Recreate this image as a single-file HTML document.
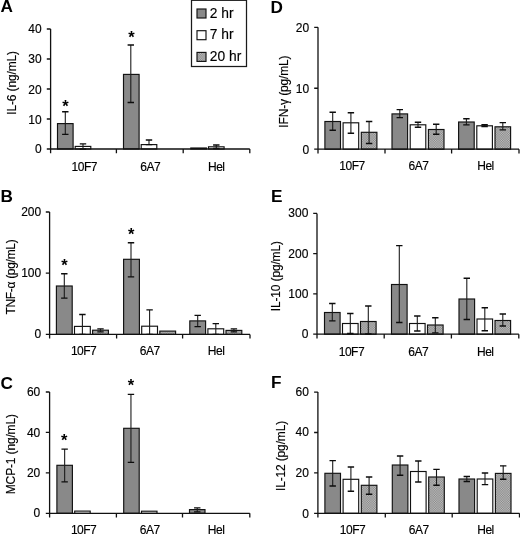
<!DOCTYPE html>
<html lang="en">
<head>
<meta charset="utf-8">
<title>Cytokine levels</title>
<style>
html,body{margin:0;padding:0;background:#fff;}
body{width:520px;height:535px;overflow:hidden;}
svg{display:block;filter:blur(0.3px);font-family:"Liberation Sans",sans-serif;}
text{fill:#000;stroke:#000;stroke-width:.15px;}
.t{font-size:12px;}
.r{text-anchor:end;}
.m{text-anchor:middle;}
.x{letter-spacing:-.5px;}
.y{letter-spacing:-.15px;}
.L{font-size:17.2px;font-weight:bold;stroke:none;}
.s{font-size:16.5px;font-weight:bold;text-anchor:middle;stroke:none;}
.lt{font-size:13.8px;}
.a{stroke:#111;stroke-width:1.3px;fill:none;}
.e{stroke:#1c1c1c;stroke-width:1.1px;fill:none;}
.c{stroke:#0c0c0c;stroke-width:1.35px;fill:none;}
.b{stroke:#111;stroke-width:1.15px;}
.k{fill:#898989;}
.w{fill:#fff;}
.d{fill:url(#d);}
.lg{fill:#fff;stroke:#1a1a1a;stroke-width:1.25px;}
</style>
</head>
<body>
<svg width="520" height="535" viewBox="0 0 520 535">
<defs><pattern id="d" width="2" height="2" patternUnits="userSpaceOnUse" patternTransform="scale(0.87)"><rect width="2" height="2" fill="#c2c2c2"/><rect width="1" height="1" fill="#828282"/><rect x="1" y="1" width="1" height="1" fill="#828282"/></pattern></defs>
<rect width="520" height="535" fill="#fff"/>
<g id="panel-A">
<rect class="b k" x="57.5" y="123.6" width="15.6" height="25.4"/>
<path class="e" d="M65.3 111.75V134.4"/><path class="c" d="M62.1 111.75h6.4M62.1 134.4h6.4"/>
<rect class="b w" x="75.2" y="146.4" width="15.6" height="2.6"/>
<path class="e" d="M83 143.9V149"/><path class="c" d="M79.8 143.9h6.4M79.8 149h6.4"/>
<rect class="b k" x="123.5" y="74.4" width="15.6" height="74.6"/>
<path class="e" d="M130.8 45V102.5"/><path class="c" d="M127.6 45h6.4M127.6 102.5h6.4"/>
<rect class="b w" x="141.2" y="144.6" width="15.6" height="4.4"/>
<path class="e" d="M149 140V144.6"/><path class="c" d="M145.8 140h6.4M145.8 144.6h6.4"/>
<rect class="b k" x="190.8" y="148" width="15.6" height="1"/>
<rect class="b w" x="208.5" y="146.8" width="15.6" height="2.2"/>
<path class="e" d="M216.3 145V148.5"/><path class="c" d="M213.1 145h6.4M213.1 148.5h6.4"/>
<path class="a" d="M50.6 29V153.2M46.8 149H249.8M116.4 149v4.2M183.2 149v4.2M249.8 149v4.2M46.8 119h3.8M46.8 89h3.8M46.8 59h3.8M46.8 29h3.8"/>
<text class="t r" x="41.6" y="153.1">0</text>
<text class="t r" x="41.6" y="123.5">10</text>
<text class="t r" x="41.6" y="93.8">20</text>
<text class="t r" x="41.6" y="63.1">30</text>
<text class="t r" x="41.6" y="32.6">40</text>
<text class="t m x" x="84.3" y="170.5">10F7</text>
<text class="t m x" x="150.2" y="170.5">6A7</text>
<text class="t m x" x="216.3" y="170.5">Hel</text>
<text class="t m y" transform="translate(16.2 82.9) rotate(-90)">IL-6 (ng/mL)</text>
<text class="L" x="0.6" y="12.4">A</text>
<text class="s" x="65.4" y="111.8">*</text>
<text class="s" x="131.5" y="43.2">*</text>
</g>
<g id="panel-B">
<rect class="b k" x="56.4" y="286" width="15.8" height="48.4"/>
<path class="e" d="M64.3 273.7V298.1"/><path class="c" d="M61.1 273.7h6.4M61.1 298.1h6.4"/>
<rect class="b w" x="74.5" y="326.4" width="15.8" height="8"/>
<path class="e" d="M82.4 314.5V334.4"/><path class="c" d="M79.2 314.5h6.4M79.2 334.4h6.4"/>
<rect class="b d" x="92.6" y="330.2" width="15.8" height="4.2"/>
<path class="e" d="M100.5 328.9V331.9"/><path class="c" d="M97.3 328.9h6.4M97.3 331.9h6.4"/>
<rect class="b k" x="123.6" y="259.3" width="15.8" height="75.1"/>
<path class="e" d="M131 242.7V276.8"/><path class="c" d="M127.8 242.7h6.4M127.8 276.8h6.4"/>
<rect class="b w" x="141.7" y="326.2" width="15.8" height="8.2"/>
<path class="e" d="M149.6 309.9V334.4"/><path class="c" d="M146.4 309.9h6.4M146.4 334.4h6.4"/>
<rect class="b d" x="159.8" y="331.1" width="15.8" height="3.3"/>
<rect class="b k" x="189.8" y="320.9" width="15.8" height="13.5"/>
<path class="e" d="M197.7 315.4V326.6"/><path class="c" d="M194.5 315.4h6.4M194.5 326.6h6.4"/>
<rect class="b w" x="207.9" y="328.8" width="15.8" height="5.6"/>
<path class="e" d="M215.8 323.6V334.4"/><path class="c" d="M212.6 323.6h6.4M212.6 334.4h6.4"/>
<rect class="b d" x="226" y="330.4" width="15.8" height="4"/>
<path class="e" d="M233.9 328.9V331.9"/><path class="c" d="M230.7 328.9h6.4M230.7 331.9h6.4"/>
<path class="a" d="M49.6 212V338.6M45.8 334.4H250M116.6 334.4v4.2M182.6 334.4v4.2M250 334.4v4.2M45.8 273.2h3.8M45.8 212h3.8"/>
<text class="t r" x="41.2" y="338.3">0</text>
<text class="t r" x="41.2" y="277.1">100</text>
<text class="t r" x="41.2" y="215.9">200</text>
<text class="t m x" x="83.6" y="355.2">10F7</text>
<text class="t m x" x="149.8" y="355.2">6A7</text>
<text class="t m x" x="216.1" y="355.2">Hel</text>
<text class="t m y" transform="translate(15.1 277.1) rotate(-90)" style="letter-spacing:-0.3px">TNF-α (pg/mL)</text>
<text class="L" x="0.6" y="201.9">B</text>
<text class="s" x="64.4" y="271.1">*</text>
<text class="s" x="131.3" y="240.2">*</text>
</g>
<g id="panel-C">
<rect class="b k" x="56.9" y="465.3" width="15.5" height="48"/>
<path class="e" d="M64.65 449.1V481.8"/><path class="c" d="M61.45 449.1h6.4M61.45 481.8h6.4"/>
<rect class="b w" x="74.7" y="511.1" width="15.5" height="2.2"/>
<rect class="b k" x="123.7" y="428.3" width="15.5" height="85"/>
<path class="e" d="M130.95 394.3V462.3"/><path class="c" d="M127.75 394.3h6.4M127.75 462.3h6.4"/>
<rect class="b w" x="141.5" y="511.2" width="15.5" height="2.1"/>
<rect class="b k" x="189.5" y="509.6" width="15.5" height="3.7"/>
<path class="e" d="M197.25 507.9V511.8"/><path class="c" d="M194.05 507.9h6.4M194.05 511.8h6.4"/>
<path class="a" d="M49.6 392V517.5M45.8 513.3H249.8M116.4 513.3v4.2M182.5 513.3v4.2M249.8 513.3v4.2M45.8 472.87h3.8M45.8 432.43h3.8M45.8 392h3.8"/>
<text class="t r" x="40.3" y="517.4">0</text>
<text class="t r" x="40.3" y="476.97">20</text>
<text class="t r" x="40.3" y="436.53">40</text>
<text class="t r" x="40.3" y="396.1">60</text>
<text class="t m x" x="83.6" y="533.7">10F7</text>
<text class="t m x" x="149.8" y="533.7">6A7</text>
<text class="t m x" x="216.1" y="533.7">Hel</text>
<text class="t m y" transform="translate(14.8 454.2) rotate(-90)">MCP-1 (ng/mL)</text>
<text class="L" x="0.6" y="388.5">C</text>
<text class="s" x="64.3" y="446.4">*</text>
<text class="s" x="131" y="391.4">*</text>
</g>
<g id="panel-D">
<rect class="b k" x="324.9" y="121.5" width="15.6" height="27.7"/>
<path class="e" d="M332.7 112.2V130.2"/><path class="c" d="M329.5 112.2h6.4M329.5 130.2h6.4"/>
<rect class="b w" x="343.1" y="122.8" width="15.6" height="26.4"/>
<path class="e" d="M350.9 112.7V133.2"/><path class="c" d="M347.7 112.7h6.4M347.7 133.2h6.4"/>
<rect class="b d" x="361.3" y="132.3" width="15.6" height="16.9"/>
<path class="e" d="M369.1 121.5V143.5"/><path class="c" d="M365.9 121.5h6.4M365.9 143.5h6.4"/>
<rect class="b k" x="392" y="113.9" width="15.6" height="35.3"/>
<path class="e" d="M399.8 109.6V117.6"/><path class="c" d="M396.6 109.6h6.4M396.6 117.6h6.4"/>
<rect class="b w" x="410.2" y="124.8" width="15.6" height="24.4"/>
<path class="e" d="M418 122.2V127.2"/><path class="c" d="M414.8 122.2h6.4M414.8 127.2h6.4"/>
<rect class="b d" x="428.4" y="129.5" width="15.6" height="19.7"/>
<path class="e" d="M436.2 124.2V134.2"/><path class="c" d="M433 124.2h6.4M433 134.2h6.4"/>
<rect class="b k" x="458.6" y="122" width="15.6" height="27.2"/>
<path class="e" d="M466.4 118.7V124.8"/><path class="c" d="M463.2 118.7h6.4M463.2 124.8h6.4"/>
<rect class="b w" x="476.8" y="125.8" width="15.6" height="23.4"/>
<path class="e" d="M484.6 124.7V126.5"/><path class="c" d="M481.4 124.7h6.4M481.4 126.5h6.4"/>
<rect class="b d" x="495" y="126.8" width="15.6" height="22.4"/>
<path class="e" d="M502.8 122.6V129.8"/><path class="c" d="M499.6 122.6h6.4M499.6 129.8h6.4"/>
<path class="a" d="M318 27.3V153.4M314.2 149.2H519M385 149.2v4.2M451.6 149.2v4.2M519 149.2v4.2M314.2 88.25h3.8M314.2 27.3h3.8"/>
<text class="t r" x="309.2" y="153.7">0</text>
<text class="t r" x="309.2" y="92.75">10</text>
<text class="t r" x="309.2" y="31.8">20</text>
<text class="t m x" x="352" y="169.9">10F7</text>
<text class="t m x" x="418.5" y="169.9">6A7</text>
<text class="t m x" x="485.5" y="169.9">Hel</text>
<text class="t m y" transform="translate(287.8 91.6) rotate(-90)">IFN-γ (pg/mL)</text>
<text class="L" x="270.5" y="12.8">D</text>
</g>
<g id="panel-E">
<rect class="b k" x="324.5" y="312.5" width="15.6" height="21.7"/>
<path class="e" d="M332.3 303.5V320.8"/><path class="c" d="M329.1 303.5h6.4M329.1 320.8h6.4"/>
<rect class="b w" x="342.5" y="323.5" width="15.6" height="10.7"/>
<path class="e" d="M350.3 313.5V333.5"/><path class="c" d="M347.1 313.5h6.4M347.1 333.5h6.4"/>
<rect class="b d" x="360.5" y="321.5" width="15.6" height="12.7"/>
<path class="e" d="M368.3 306V334"/><path class="c" d="M365.1 306h6.4M365.1 334h6.4"/>
<rect class="b k" x="391.5" y="284.5" width="15.6" height="49.7"/>
<path class="e" d="M399.3 245.6V322.5"/><path class="c" d="M396.1 245.6h6.4M396.1 322.5h6.4"/>
<rect class="b w" x="409.5" y="323.5" width="15.6" height="10.7"/>
<path class="e" d="M417.3 316V331"/><path class="c" d="M414.1 316h6.4M414.1 331h6.4"/>
<rect class="b d" x="427.5" y="325" width="15.6" height="9.2"/>
<path class="e" d="M435.3 317.7V332.8"/><path class="c" d="M432.1 317.7h6.4M432.1 332.8h6.4"/>
<rect class="b k" x="459" y="299" width="15.6" height="35.2"/>
<path class="e" d="M466.8 278.2V319.5"/><path class="c" d="M463.6 278.2h6.4M463.6 319.5h6.4"/>
<rect class="b w" x="477" y="319" width="15.6" height="15.2"/>
<path class="e" d="M484.8 307.7V330.7"/><path class="c" d="M481.6 307.7h6.4M481.6 330.7h6.4"/>
<rect class="b d" x="495" y="320.5" width="15.6" height="13.7"/>
<path class="e" d="M502.8 314V326"/><path class="c" d="M499.6 314h6.4M499.6 326h6.4"/>
<path class="a" d="M317 213.4V338.4M313.2 334.2H518.8M384.2 334.2v4.2M451.4 334.2v4.2M518.8 334.2v4.2M313.2 293.93h3.8M313.2 253.67h3.8M313.2 213.4h3.8"/>
<text class="t r" x="308.4" y="338.2">0</text>
<text class="t r" x="308.4" y="297.93">100</text>
<text class="t r" x="308.4" y="257.67">200</text>
<text class="t r" x="308.4" y="217.4">300</text>
<text class="t m x" x="351.4" y="356">10F7</text>
<text class="t m x" x="418.2" y="356">6A7</text>
<text class="t m x" x="485.3" y="356">Hel</text>
<text class="t m y" transform="translate(280.2 276.2) rotate(-90)">IL-10 (pg/mL)</text>
<text class="L" x="271" y="202">E</text>
</g>
<g id="panel-F">
<rect class="b k" x="324.9" y="473.3" width="15.6" height="40"/>
<path class="e" d="M332.7 460.6V486"/><path class="c" d="M329.5 460.6h6.4M329.5 486h6.4"/>
<rect class="b w" x="343.1" y="479.3" width="15.6" height="34"/>
<path class="e" d="M350.9 467V491.2"/><path class="c" d="M347.7 467h6.4M347.7 491.2h6.4"/>
<rect class="b d" x="361.3" y="485.3" width="15.6" height="28"/>
<path class="e" d="M369.1 477V494.2"/><path class="c" d="M365.9 477h6.4M365.9 494.2h6.4"/>
<rect class="b k" x="392.3" y="465" width="15.6" height="48.3"/>
<path class="e" d="M400.1 456V475.2"/><path class="c" d="M396.9 456h6.4M396.9 475.2h6.4"/>
<rect class="b w" x="410.5" y="471.5" width="15.6" height="41.8"/>
<path class="e" d="M418.3 461V482"/><path class="c" d="M415.1 461h6.4M415.1 482h6.4"/>
<rect class="b d" x="428.7" y="477" width="15.6" height="36.3"/>
<path class="e" d="M436.5 469.3V485.2"/><path class="c" d="M433.3 469.3h6.4M433.3 485.2h6.4"/>
<rect class="b k" x="459" y="479" width="15.6" height="34.3"/>
<path class="e" d="M466.8 476.5V481.5"/><path class="c" d="M463.6 476.5h6.4M463.6 481.5h6.4"/>
<rect class="b w" x="477.2" y="479" width="15.6" height="34.3"/>
<path class="e" d="M485 473V484.6"/><path class="c" d="M481.8 473h6.4M481.8 484.6h6.4"/>
<rect class="b d" x="495.4" y="473.4" width="15.6" height="39.9"/>
<path class="e" d="M503.2 465.8V479.2"/><path class="c" d="M500 465.8h6.4M500 479.2h6.4"/>
<path class="a" d="M317.9 392.1V517.5M314.1 513.3H519.5M385.3 513.3v4.2M452.2 513.3v4.2M519.5 513.3v4.2M314.1 472.9h3.8M314.1 432.5h3.8M314.1 392.1h3.8"/>
<text class="t r" x="308.9" y="518.1">0</text>
<text class="t r" x="308.9" y="476.5">20</text>
<text class="t r" x="308.9" y="436.1">40</text>
<text class="t r" x="308.9" y="395.7">60</text>
<text class="t m x" x="352.5" y="533.7">10F7</text>
<text class="t m x" x="418.7" y="533.7">6A7</text>
<text class="t m x" x="485.5" y="533.7">Hel</text>
<text class="t m y" transform="translate(285.1 456) rotate(-90)">IL-12 (pg/mL)</text>
<text class="L" x="271" y="388">F</text>
</g>
<g id="legend">
<rect class="lg" x="191.5" y="0.3" width="55" height="66.2"/>
<rect class="b k" x="197" y="9" width="9" height="9"/>
<text class="lt" x="209.8" y="17.6">2 hr</text>
<rect class="b w" x="197" y="30.7" width="9" height="9"/>
<text class="lt" x="209.8" y="39.3">7 hr</text>
<rect class="b d" x="197" y="52.4" width="9" height="9"/>
<text class="lt" x="209.8" y="61">20 hr</text>
</g>
</svg>
</body>
</html>
